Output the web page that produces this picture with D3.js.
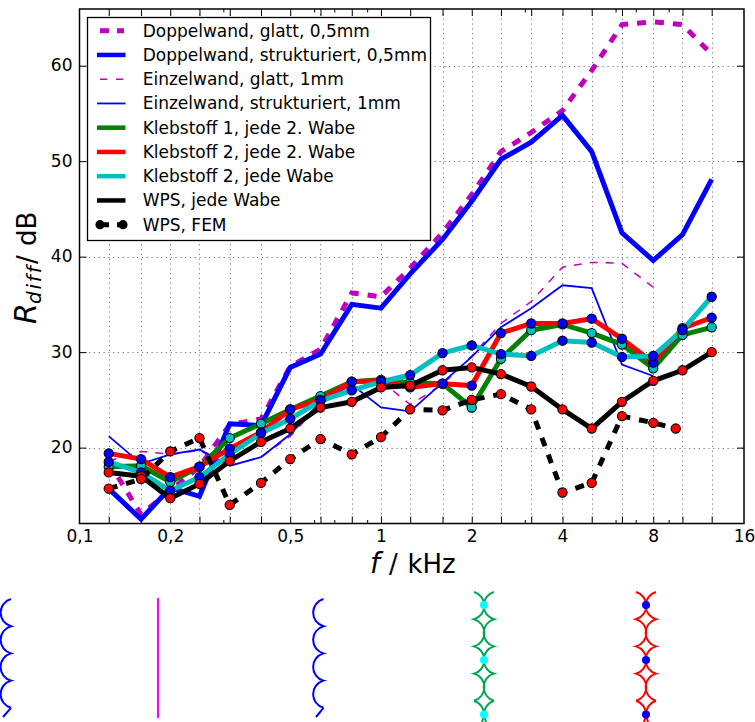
<!DOCTYPE html>
<html><head><meta charset="utf-8">
<script src="https://cdn.jsdelivr.net/npm/d3@7"></script>
<style>html,body{margin:0;padding:0;background:#fff}svg{display:block}text{font-family:"DejaVu Sans";fill:#000}</style>
</head><body><svg id="c" width="755" height="722"></svg>
<script>
const freqs=[0.125,0.16,0.2,0.25,0.315,0.4,0.5,0.63,0.8,1,1.25,1.6,2,2.5,3.15,4,5,6.3,8,10,12.5];
const femFreqs=[0.125,0.16,0.2,0.25,0.315,0.4,0.5,0.63,0.8,1,1.25,1.6,2,2.5,3.15,4,5,6.3,8,9.5];
const doppelGlatt=[18.5,13,15.5,18,22.4,23,28.5,30.3,36.2,35.8,38.8,42.5,46.5,51,53,55.3,59.5,64.3,64.6,64.3,61.2];
const doppelStrukt=[15.7,12.5,15.8,14.9,22.5,22.3,28.4,29.8,35,34.6,38.2,41.8,45.8,50.2,52,54.8,51,42.5,39.6,42.3,48.1];
const einzelGlatt=[18.6,19.6,19.3,19.7,18.1,19,21.2,24.6,26.2,27,24.5,26.6,29.6,33,35.3,38.9,39.4,39.3,36.8];
const einzelStrukt=[21.2,18.3,19.3,19.8,18.1,19,21.4,24.8,26.6,24.2,23.8,26.8,29.5,32.6,34.6,37,36.7,28.7,27.5];
const kleb1=[18,18.1,16.4,18,21,22.5,24,25.4,26.9,27.1,26.8,26.7,24.2,29.3,32.3,32.9,32,30.8,28.3,31.8,32.6];
const kleb2Zwei=[19.4,18.8,16.9,18,19.9,21.6,24,25,26.9,27,26.3,26.7,26.5,32,33,33,33.5,31.4,28.9,32.5,33.6];
const kleb2Jede=[18.5,17.4,15.5,16.9,19.3,21.5,23,24.9,26,26.9,27.6,29.9,30.7,29.8,29.6,31.2,31,29.5,29.6,32.3,35.8];
const wpsJede=[17.4,17,14.7,16.2,18.6,20.6,22,24.2,24.8,26.3,26.5,28.1,28.4,27.7,26.4,24,22,24.8,27,28.1,30];
const wpsFem=[15.7,16.7,19.6,21,14,16.3,18.8,20.9,19.3,21.1,24,23.9,25,25.6,24,15.3,16.3,23.3,22.6,22];
const majorTicks=freqs;
const minorTicks=[0.3,0.6,0.7,0.9,3,6,7,9];
const xLabelValues=[0.1,0.2,0.5,1,2,4,8,16];
const xLabels=["0,1","0,2","0,5","1","2","4","8","16"];
const yTicks=[20,30,40,50,60];
const legendLabels=["Doppelwand, glatt, 0,5mm","Doppelwand, strukturiert, 0,5mm","Einzelwand, glatt, 1mm","Einzelwand, strukturiert, 1mm","Klebstoff 1, jede 2. Wabe","Klebstoff 2, jede 2. Wabe","Klebstoff 2, jede Wabe","WPS, jede Wabe","WPS, FEM"];

const L=79.5,R=744,T=9,B=523.5;
const x=d3.scaleLog().base(2).domain([0.1,16]).range([L,R]);
const y=d3.scaleLinear().domain([12,66]).range([524,8.4]);
const svg=d3.select("#c");
const line=d3.line().x(d=>x(d[0])).y(d=>y(d[1]));

// grid
const grid=svg.append("g").attr("stroke","#808080").attr("stroke-width",1).attr("stroke-dasharray","1.3,3.5");
grid.selectAll("line.v").data(majorTicks).join("line").attr("x1",d=>Math.round(x(d))+.5).attr("x2",d=>Math.round(x(d))+.5).attr("y1",T).attr("y2",B);
grid.selectAll("line.h").data(yTicks).join("line").attr("class","h").attr("y1",d=>Math.round(y(d))+.5).attr("y2",d=>Math.round(y(d))+.5).attr("x1",L).attr("x2",R);

// series
const series=[
 {xs:freqs,v:doppelGlatt,c:"#bf00bf",w:5,dash:"9,9"},
 {xs:freqs,v:doppelStrukt,c:"#0000ff",w:5},
 {xs:freqs,v:einzelGlatt,c:"#bf00bf",w:1.5,dash:"8,8"},
 {xs:freqs,v:einzelStrukt,c:"#0000ff",w:1.8},
 {xs:freqs,v:kleb1,c:"#008000",w:5,mc:"#00bfbf"},
 {xs:freqs,v:kleb2Zwei,c:"#ff0000",w:5,mc:"#0000ff"},
 {xs:freqs,v:kleb2Jede,c:"#00bfbf",w:5,mc:"#0000ff"},
 {xs:freqs,v:wpsJede,c:"#000000",w:5,mc:"#ff0000"},
 {xs:femFreqs,v:wpsFem,c:"#000000",w:5,dash:"9,9",mc:"#ff0000"}
];
const pts=s=>s.v.map((v,i)=>[s.xs[i],v]);
series.forEach(s=>{
 svg.append("path").attr("d",line(pts(s))).attr("fill","none").attr("stroke",s.c).attr("stroke-width",s.w)
  .attr("stroke-linejoin","miter").attr("stroke-dasharray",s.dash||null);
});
series.filter(s=>s.mc).forEach(s=>{
 svg.append("g").selectAll("circle").data(pts(s)).join("circle")
  .attr("cx",d=>x(d[0])).attr("cy",d=>y(d[1])).attr("r",4.6)
  .attr("fill",s.mc).attr("stroke","#000").attr("stroke-width",1.1);
});

// axes: ticks inward on all four sides
function tickAxis(gen,tx,ty,vals,size){
 const g=svg.append("g").attr("transform",`translate(${tx},${ty})`)
  .call(gen.tickValues(vals).tickSize(-size).tickFormat(""));
 g.select(".domain").remove();
 g.selectAll("line").attr("stroke","#000").attr("stroke-width",1);
 return g;
}
tickAxis(d3.axisBottom(x),0,B,majorTicks,7);
tickAxis(d3.axisBottom(x),0,B,minorTicks,3.5);
tickAxis(d3.axisTop(x),0,T,majorTicks,7);
tickAxis(d3.axisTop(x),0,T,minorTicks,3.5);
tickAxis(d3.axisLeft(y),L,0,yTicks,7);
tickAxis(d3.axisRight(y),R,0,yTicks,7);

// tick labels
const xl=svg.append("g").attr("transform",`translate(0,${B})`)
 .call(d3.axisBottom(x).tickValues(xLabelValues).tickSize(0).tickPadding(0).tickFormat((d,i)=>xLabels[i]));
xl.select(".domain").remove();
xl.selectAll("text").attr("y",18).attr("dy",0).attr("font-size",17).attr("font-family","DejaVu Sans").attr("fill","#000");
const yl=svg.append("g").attr("transform",`translate(${L},0)`)
 .call(d3.axisLeft(y).tickValues(yTicks).tickSize(0).tickPadding(7).tickFormat(d3.format("d")));
yl.select(".domain").remove();
yl.selectAll("text").attr("y",-1).attr("dy","0.37em").attr("font-size",17).attr("font-family","DejaVu Sans").attr("fill","#000");

// spines
svg.append("rect").attr("x",L).attr("y",T).attr("width",R-L).attr("height",B-T).attr("fill","none").attr("stroke","#000").attr("stroke-width",1.5);

// axis labels
const mathFont='"Liberation Serif"';
svg.append("text").attr("x",370).attr("y",573).attr("font-family",mathFont).attr("font-style","italic").attr("font-size",28).text("f");
svg.append("text").attr("x",389).attr("y",573).attr("font-size",26).text("/");
svg.append("text").attr("x",407.5).attr("y",573).attr("font-size",26).text("kHz");
const yt=svg.append("g").attr("transform","translate(36,0) rotate(-90)");
yt.append("text").attr("x",-324).attr("y",0).attr("font-family",mathFont).attr("font-style","italic").attr("font-size",30).text("R");
yt.append("text").attr("x",-304).attr("y",5).attr("font-family",mathFont).attr("font-style","italic").attr("font-size",20).attr("letter-spacing",1.8).text("diff");
yt.append("text").attr("x",-264).attr("y",0).attr("font-size",26).text("/");
yt.append("text").attr("x",-246).attr("y",0).attr("font-size",26).text("dB");

// legend
svg.append("rect").attr("x",87.5).attr("y",17.5).attr("width",343).attr("height",223).attr("fill","#fff").attr("stroke","#000").attr("stroke-width",1.3);
series.forEach((s,i)=>{
 const base=36.7+i*24.25, my=base-6;
 const dash=s.dash?(s.w>2?"9,8":"7,9"):null;
 const x0=s.dash?100:97, x1=s.dash?124:125.5;
 svg.append("line").attr("x1",x0).attr("x2",x1).attr("y1",my).attr("y2",my).attr("stroke",s.c).attr("stroke-width",s.w===5&&!s.dash?4.5:s.w)
  .attr("stroke-dasharray",dash);
 if(i===8)[100,123].forEach(cx=>svg.append("circle").attr("cx",cx).attr("cy",my).attr("r",4.6).attr("fill","#000"));
 svg.append("text").attr("x",142.7).attr("y",base).attr("font-size",17).text(legendLabels[i]);
});

// structure sketches
function scallop(px,top,n,dir){
 const p=[];p.push(`M${px},${top}`);
 for(let i=0;i<n;i++)p.push(`A14.1,14.1 0 0 ${dir>0?0:1} ${px},${top+27.2*(i+1)}`);
 return p.join(" ");
}
const sk=svg.append("g").attr("fill","none").attr("stroke-width",2);
sk.append("path").attr("d",scallop(11,599,4,1)+" M11,707.8 L3,717").attr("stroke","#0000ff");
sk.append("path").attr("d",scallop(323.5,599,4,1)+" M323.5,707.8 L316,717").attr("stroke","#0000ff");
sk.append("line").attr("x1",158).attr("x2",158).attr("y1",598).attr("y2",718).attr("stroke","#ff00ff");
[[484,"#00a651","#00ffff"],[646,"#ff0000","#0000ff"]].forEach(([cx,c,dc])=>{
 const g=svg.append("g").attr("fill","none").attr("stroke",c).attr("stroke-width",2);
 g.append("path").attr("d",scallop(cx-10,592,4,-1)+` M${cx-10},700.8 A14.1,14.1 0 0 1 ${cx},715 L${cx-2},722`);
 g.append("path").attr("d",scallop(cx+10,592,4,1)+` M${cx+10},700.8 A14.1,14.1 0 0 0 ${cx},715 L${cx+2},722`);
 [605,660,714.5].forEach(cy=>svg.append("circle").attr("cx",cx).attr("cy",cy).attr("r",4).attr("fill",dc));
});
</script></body></html>
